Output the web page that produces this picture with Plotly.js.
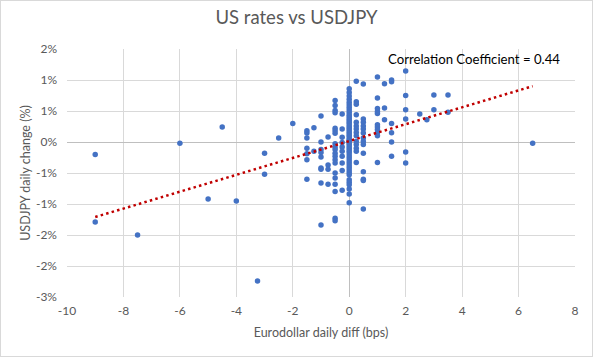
<!DOCTYPE html>
<html>
<head>
<meta charset="utf-8">
<script src="https://cdn.plot.ly/plotly-3.0.1.min.js"></script>
<style>
  html, body { margin: 0; padding: 0; background: #fff; }
  #chart { width: 593px; height: 357px; box-sizing: border-box; border: 1px solid #D9D9D9; }
</style>
</head>
<body>
<div id="chart"></div>
<script>
// Eurodollar daily diff (bps)
const euroDiff = [
  -9, -9,
  -7.5,
  -6,
  -5,
  -4.5,
  -4,
  -3.25,
  -3, -3,
  -2.5,
  -2,
  -1.5, -1.5, -1.5, -1.5, -1.5, -1.5, -1.5,
  -1.25, -1.25,
  -1, -1, -1, -1, -1, -1, -1, -1, -1,
  -0.75, -0.75, -0.75, -0.75,
  -0.5, -0.5, -0.5, -0.5, -0.5, -0.5, -0.5, -0.5, -0.5, -0.5,
  -0.5, -0.5, -0.5, -0.5, -0.5, -0.5, -0.5, -0.5, -0.5, -0.5,
  -0.25, -0.25, -0.25, -0.25, -0.25, -0.25, -0.25, -0.25, -0.25, -0.25,
  0, 0, 0, 0, 0, 0, 0, 0, 0, 0,
  0, 0, 0, 0, 0, 0, 0, 0, 0, 0,
  0, 0, 0, 0, 0, 0, 0, 0, 0, 0,
  0, 0, 0, 0, 0, 0, 0, 0, 0, 0,
  0, 0, 0, 0, 0, 0,
  0.25, 0.25, 0.25, 0.25, 0.25, 0.25, 0.25, 0.25, 0.25, 0.25, 0.25, 0.25, 0.25, 0.25,
  0.5, 0.5, 0.5, 0.5, 0.5, 0.5, 0.5, 0.5, 0.5, 0.5, 0.5, 0.5, 0.5, 0.5,
  1, 1, 1, 1, 1, 1, 1, 1, 1, 1, 1,
  1.25, 1.25, 1.25,
  1.5, 1.5, 1.5, 1.5, 1.5, 1.5,
  2, 2, 2, 2, 2, 2,
  2.5,
  2.75,
  3, 3,
  3.5, 3.5,
  6.5
];

// USDJPY daily change (%)
const usdjpyChange = [
  -0.20, -1.29,
  -1.50,
  -0.02,
  -0.92,
  0.24,
  -0.95,
  -2.24,
  -0.18, -0.52,
  0.065,
  0.30,
  0.18, 0.145, 0.065, -0.10, -0.19, -0.285, -0.60,
  0.23, -0.15,
  0.42, 0.0, -0.12, -0.17, -0.24, -0.42, -0.44, -0.66, -1.34,
  0.08, -0.37, -0.44, -0.68,
  0.67, 0.59, 0.51, 0.47, 0.22, 0.18, 0.14, -0.03, -0.08, -0.12,
  -0.18, -0.23, -0.285, -0.34, -0.50, -0.58, -0.68, -0.80, -1.23, -1.27,
  0.45, 0.21, 0.075, -0.01, -0.08, -0.15, -0.23, -0.34, -0.46, -0.78,
  0.86, 0.80, 0.74, 0.69, 0.64, 0.60, 0.56, 0.52, 0.48, 0.44,
  0.41, 0.38, 0.35, 0.32, 0.29, 0.26, 0.23, 0.20, 0.17, 0.14,
  0.11, 0.08, 0.05, 0.03, 0.01, -0.02, -0.05, -0.08, -0.11, -0.14,
  -0.17, -0.21, -0.25, -0.29, -0.33, -0.37, -0.41, -0.45, -0.49, -0.53,
  -0.61, -0.65, -0.69, -0.76, -0.84, -0.98,
  0.98, 0.65, 0.61, 0.44, 0.32, 0.26, 0.21, 0.155, 0.10, 0.01, -0.04, -0.10, -0.15, -0.33,
  0.935, 0.37, 0.32, 0.26, 0.21, 0.145, 0.065, 0.01, -0.04, -0.18, -0.48, -0.60, -0.62, -1.08,
  1.05, 0.71, 0.54, 0.49, 0.46, 0.28, 0.24, 0.20, 0.15, 0.10, -0.33,
  0.94, 0.55, 0.36,
  1.00, 0.97, 0.30, 0.15, 0.0, -0.23,
  1.145, 0.75, 0.52, 0.37, -0.16, -0.34,
  0.45,
  0.36,
  0.76, 0.52,
  0.76, 0.48,
  -0.02
];

// Linear trendline end points (as drawn)
const trendX = [-9, 6.5];
const trendY = [-1.21, 0.90];

// Axis ticks
const xTickVals = [-10, -8, -6, -4, -2, 0, 2, 4, 6, 8];
const yTickVals = [-2.5, -2, -1.5, -1, -0.5, 0, 0.5, 1, 1.5];
const yTickText = ['-3%', '-2%', '-2%', '-1%', '-1%', '0%', '1%', '1%', '2%'];

const correlationText = 'Correlation Coefficient = 0.44';

const FONT = 'Lato, "Open Sans", sans-serif';
const GREY = '#595959';

const traces = [
  {
    type: 'scatter',
    mode: 'markers',
    x: euroDiff,
    y: usdjpyChange,
    marker: { color: '#4472C4', size: 5.5, line: { width: 0 } },
    hoverinfo: 'skip'
  },
  {
    type: 'scatter',
    mode: 'lines',
    x: trendX,
    y: trendY,
    line: { color: '#C00000', width: 2.5, dash: '2.5px,3.2px' },
    hoverinfo: 'skip'
  }
];

const layout = {
  width: 591,
  height: 355,
  margin: { l: 66, r: 17, t: 48, b: 59 },
  paper_bgcolor: '#ffffff',
  plot_bgcolor: '#ffffff',
  showlegend: false,
  font: { family: FONT, color: GREY, size: 12 },
  title: {
    text: 'US rates vs USDJPY',
    font: { family: FONT, size: 18.5, color: GREY },
    x: 0.5,
    xanchor: 'center',
    y: 0.953,
    yanchor: 'middle'
  },
  xaxis: {
    range: [-10, 8],
    tickvals: xTickVals,
    ticktext: xTickVals.map(String),
    showgrid: true,
    gridcolor: '#D9D9D9',
    gridwidth: 1,
    zeroline: true,
    zerolinecolor: '#BFBFBF',
    zerolinewidth: 1,
    showline: false,
    ticks: '',
    ticklabelstandoff: 5,
    tickfont: { family: FONT, size: 12, color: GREY },
    title: {
      text: 'Eurodollar daily diff (bps)',
      font: { family: FONT, size: 12.5, color: GREY },
      standoff: 11
    },
    fixedrange: true
  },
  yaxis: {
    range: [-2.5, 1.5],
    tickvals: yTickVals,
    ticktext: yTickText,
    showgrid: true,
    gridcolor: '#D9D9D9',
    gridwidth: 1,
    zeroline: true,
    zerolinecolor: '#BFBFBF',
    zerolinewidth: 1,
    showline: false,
    ticks: '',
    ticklabelstandoff: 9,
    tickfont: { family: FONT, size: 12, color: GREY },
    title: {
      text: 'USDJPY daily change (%)',
      font: { family: FONT, size: 12.5, color: GREY },
      standoff: 2
    },
    fixedrange: true
  },
  annotations: [
    {
      xref: 'x', yref: 'y',
      x: 1.3, y: 1.34,
      xanchor: 'left', yanchor: 'middle',
      text: correlationText,
      showarrow: false,
      font: { family: FONT, size: 13.2, color: '#000000' }
    }
  ]
};

Plotly.newPlot('chart', traces, layout, { displayModeBar: false, staticPlot: true });
</script>
</body>
</html>
